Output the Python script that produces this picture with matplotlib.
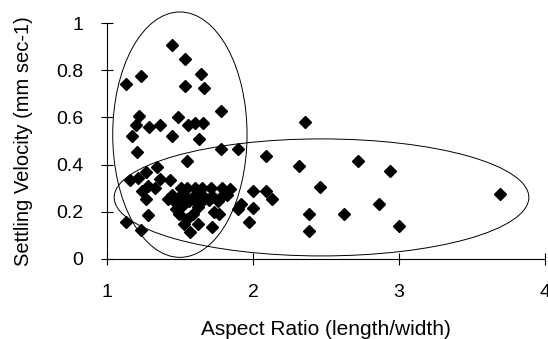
import numpy as np
import matplotlib
matplotlib.use("Agg")
import matplotlib.pyplot as plt
from matplotlib.patches import Ellipse

plt.rcParams['font.family'] = ['Liberation Sans', 'DejaVu Sans']

# upper group (tall ellipse)
upper_x = [1.443, 1.534, 1.233, 1.128, 1.642, 1.534, 1.664, 1.781, 1.219, 1.484,
           1.196, 1.288, 1.363, 1.557, 1.603, 1.655, 1.169, 1.443, 1.632, 1.208,
           1.781, 1.900, 1.546, 1.340, 1.265]
upper_y = [0.907, 0.847, 0.777, 0.742, 0.785, 0.733, 0.725, 0.628, 0.606, 0.600,
           0.568, 0.561, 0.568, 0.568, 0.575, 0.575, 0.521, 0.523, 0.508, 0.452,
           0.466, 0.466, 0.415, 0.391, 0.367]

# long particles (wide ellipse)
right_x = [2.358, 2.087, 2.317, 2.719, 2.940, 2.459, 3.694, 2.860, 2.623, 2.386,
           3.000, 2.386, 2.000, 2.087, 2.130, 1.920, 1.900, 2.000, 1.970, 1.840]
right_y = [0.580, 0.438, 0.394, 0.415, 0.373, 0.306, 0.274, 0.234, 0.190, 0.190,
           0.140, 0.119, 0.288, 0.288, 0.253, 0.232, 0.210, 0.215, 0.155, 0.295]

# dense cluster near AR 1.5
low_x = [1.158, 1.215, 1.430, 1.360, 1.280, 1.240, 1.330, 1.270, 1.420,
         1.445, 1.486, 1.534, 1.582, 1.623, 1.671, 1.719, 1.774, 1.822,
         1.460, 1.510, 1.560, 1.600, 1.650, 1.700, 1.760,
         1.510, 1.550, 1.600, 1.650, 1.710, 1.790,
         1.280, 1.490, 1.590, 1.730, 1.770, 1.530, 1.620, 1.570, 1.720,
         1.230, 1.130, 1.520, 1.620, 1.550, 1.470]
low_y = [0.335, 0.342, 0.335, 0.340, 0.310, 0.290, 0.300, 0.254, 0.254,
         0.270, 0.260, 0.265, 0.260, 0.265, 0.260, 0.265, 0.260, 0.270,
         0.245, 0.245, 0.245, 0.245, 0.245, 0.250, 0.245,
         0.300, 0.300, 0.300, 0.300, 0.300, 0.300,
         0.187, 0.190, 0.190, 0.200, 0.190, 0.148, 0.148, 0.115, 0.135,
         0.123, 0.158, 0.230, 0.220, 0.170, 0.210]

x = np.array(upper_x + right_x + low_x)
y = np.array(upper_y + right_y + low_y)

# ellipses: (centre x, centre y, width, height)
ell_tall = (1.499, 0.527, 0.92, 1.04)
ell_wide = (2.469, 0.261, 2.84, 0.496)

fig = plt.figure(figsize=(5.48, 3.39), dpi=100)
ax = fig.add_axes([0.1953, 0.236, 0.7993, 0.696])

ax.plot(x, y, linestyle='none', marker='D', ms=6.2, color='black', clip_on=False)

for cx, cy, w, h in [ell_tall, ell_wide]:
    ax.add_patch(Ellipse((cx, cy), w, h, fill=False, ec='black', lw=0.7, clip_on=False))

ax.set_xlim(1, 4)
ax.set_ylim(0, 1)
ax.set_xticks([1, 2, 3, 4])
ax.set_yticks([0, 0.2, 0.4, 0.6, 0.8, 1])
ax.set_yticklabels(['0', '0.2', '0.4', '0.6', '0.8', '1'])
ax.spines['top'].set_visible(False)
ax.spines['right'].set_visible(False)
ax.tick_params(direction='inout', length=8, width=0.8, labelsize=14)
ax.tick_params(axis='x', pad=14)
ax.tick_params(axis='y', pad=13)

ax.set_xlabel('Aspect Ratio (length/width)', fontsize=15, labelpad=14)
ax.set_ylabel('Settling Velocity (mm sec-1)', fontsize=14.5, labelpad=17)

fig.savefig('out.png', dpi=100)
